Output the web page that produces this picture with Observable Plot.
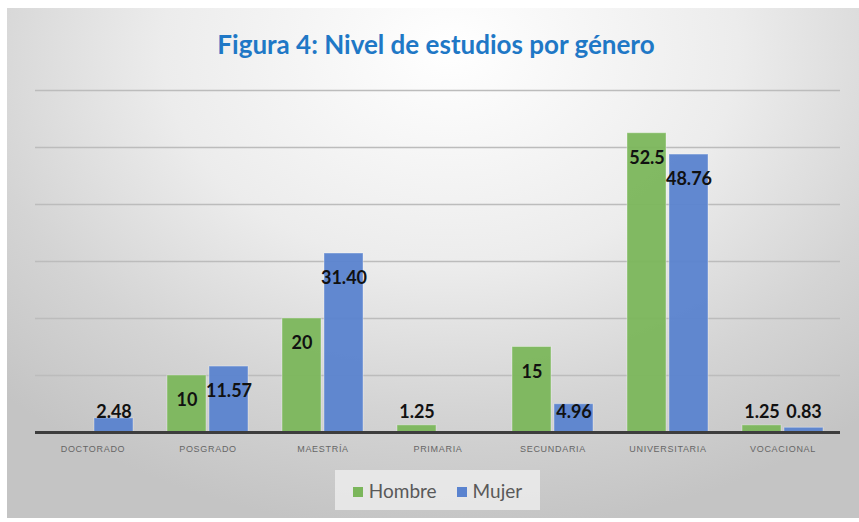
<!DOCTYPE html>
<html>
<head>
<meta charset="utf-8">
<script src="https://cdn.jsdelivr.net/npm/d3@7"></script>
<script src="https://cdn.jsdelivr.net/npm/@observablehq/plot@0.6"></script>
<style>
  html, body { margin: 0; padding: 0; background: #ffffff; }
  #wrap { position: relative; width: 859px; height: 522px; overflow: hidden; background: #fff; }
  #panel {
    position: absolute; left: 7px; top: 8px; width: 852px; height: 510px;
    background: radial-gradient(ellipse 75% 95% at 52% 8%, #ffffff 0%, #ececec 45%, #d4d4d4 75%, #c4c4c4 100%);
  }
  #title {
    position: absolute; left: 0; top: 28px; width: 872px; text-align: center;
    font-family: Lato, "Open Sans", sans-serif; font-weight: 700; font-size: 26px;
    color: #1f78c6;
  }
  #chart { position: absolute; left: 0; top: 0; }
  #legend {
    position: absolute; left: 335px; top: 470px; width: 205px; height: 40px;
    background: rgba(240,240,240,0.75);
    font-family: Lato, "Open Sans", sans-serif; font-size: 19px; color: #595959;
    display: flex; align-items: center; justify-content: center; gap: 20px;
  }
  #legend span.sw { display: inline-block; width: 10px; height: 10px; margin-right: 6px; vertical-align: middle; position: relative; top: -1px; }
  svg [aria-label="fx-axis tick label"] text { letter-spacing: 0.7px; }
</style>
</head>
<body>
<div id="wrap">
  <div id="panel"></div>
  <div id="chart"></div>
  <div id="title"></div>
  <div id="legend"></div>
</div>
<script>
const categories = ["DOCTORADO", "POSGRADO", "MAESTRÍA", "PRIMARIA", "SECUNDARIA", "UNIVERSITARIA", "VOCACIONAL"];
const series = ["Hombre", "Mujer"];
const hombre = [null, 10, 20, 1.25, 15, 52.5, 1.25];
const mujer = [2.48, 11.57, 31.40, null, 4.96, 48.76, 0.83];
const hombreLabels = ["", "10", "20", "1.25", "15", "52.5", "1.25"];
const mujerLabels = ["2.48", "11.57", "31.40", "", "4.96", "48.76", "0.83"];
const colors = ["#7bb65b", "#5a83cf"];
const gridTicks = [10, 20, 30, 40, 50, 60];
const titleText = "Figura 4: Nivel de estudios por género";

const rows = [];
categories.forEach((c, i) => {
  if (hombre[i] != null) rows.push({cat: c, serie: "Hombre", value: hombre[i], label: hombreLabels[i]});
  if (mujer[i] != null) rows.push({cat: c, serie: "Mujer", value: mujer[i], label: mujerLabels[i]});
});

document.getElementById("title").textContent = titleText;
const legend = document.getElementById("legend");
series.forEach((s, i) => {
  const item = document.createElement("div");
  const sw = document.createElement("span");
  sw.className = "sw"; sw.style.background = colors[i];
  item.appendChild(sw);
  item.appendChild(document.createTextNode(s));
  legend.appendChild(item);
});

const chart = Plot.plot({
  width: 859,
  height: 522,
  marginLeft: 33,
  marginRight: 17,
  marginTop: 90,
  marginBottom: 90,
  style: {background: "transparent", overflow: "visible"},
  fx: {domain: categories, padding: 0, label: null},
  x: {domain: series, paddingInner: 0.07, paddingOuter: 0.379, axis: null},
  y: {domain: [0, 60], axis: null},
  color: {domain: series, range: colors},
  marks: [
    Plot.ruleY(gridTicks, {stroke: "#bcbcbc", strokeWidth: 1.5}),
    Plot.barY(rows, {fx: "cat", x: "serie", y: "value", fill: "serie", fillOpacity: 0.95, stroke: "#ffffff", strokeOpacity: 0.35, strokeWidth: 1}),
    Plot.ruleY([0], {stroke: "#3d3d3d", strokeWidth: 3}),
    Plot.text(rows, {
      fx: "cat", x: "serie",
      y: d => Math.max(d.value, 7.9),
      dy: 25,
      text: "label",
      fill: "#111",
      fontWeight: "bold",
      fontSize: 18,
      fontFamily: "Lato, 'Open Sans', sans-serif"
    }),
    Plot.axisFx({anchor: "bottom", tickSize: 0, tickPadding: 13, fontSize: 9, fill: "#666", fontFamily: "'Liberation Sans', sans-serif", label: null})
  ]
});
document.getElementById("chart").appendChild(chart);
</script>
</body>
</html>
